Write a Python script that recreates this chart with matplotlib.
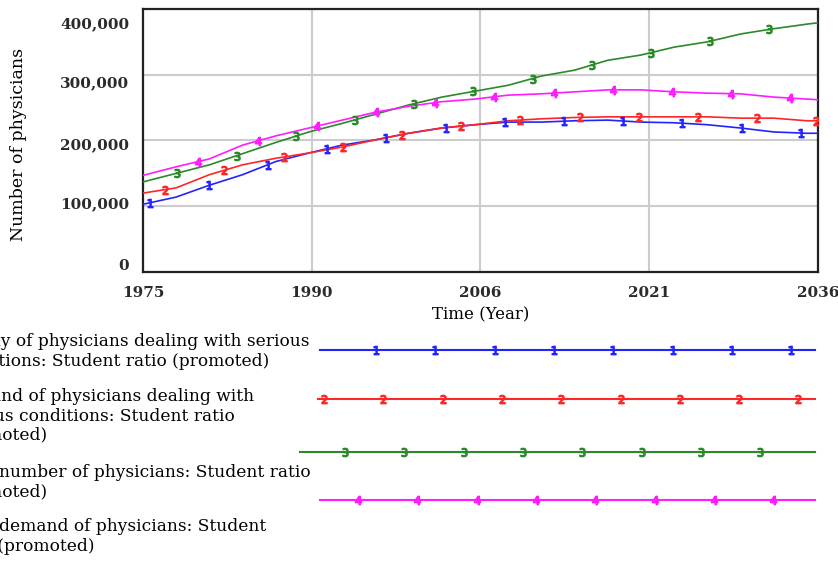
import numpy as np
import matplotlib.pyplot as plt
from matplotlib.transforms import ScaledTranslation

# simulation output, read every 3 years (plus the end year)
years = [1975, 1978, 1981, 1984, 1987, 1990, 1993, 1996, 1999, 2002, 2005,
         2008, 2011, 2014, 2017, 2020, 2023, 2026, 2029, 2032, 2035, 2036]
supply_serious = [103000, 114000, 132000, 148000, 168000, 181000, 193000, 201000, 211000, 219000, 224000,
                  228000, 228000, 230000, 231000, 228000, 227000, 224000, 219000, 213000, 211000, 211000]
demand_serious = [120000, 128000, 148000, 163000, 173000, 181000, 190000, 201000, 211000, 219000, 224000,
                  230000, 233000, 235000, 236000, 236000, 236000, 236000, 234000, 234000, 230000, 230000]
total_number = [137000, 150000, 163000, 180000, 197000, 213000, 226000, 240000, 254000, 266000, 275000,
                284000, 298000, 307000, 322000, 330000, 342000, 350000, 362000, 370000, 377000, 379000]
total_demand = [147000, 160000, 172000, 193000, 207000, 219000, 231000, 243000, 252000, 259000, 263000,
                269000, 271000, 274000, 277000, 277000, 274000, 272000, 271000, 266000, 263000, 262000]

labels = [
    "Supply of physicians dealing with serious\nconditions: Student ratio (promoted)",
    "Demand of physicians dealing with\nserious conditions: Student ratio\n(promoted)",
    "Total number of physicians: Student ratio\n(promoted)",
    "Total demand of physicians: Student\nratio (promoted)",
]
x_tick_labels = ["1975", "1990", "2006", "2021", "2036"]
y_ticks = [0, 100000, 200000, 300000, 400000]
y_tick_labels = ["0", "100,000", "200,000", "300,000", "400,000"]

series = [supply_serious, demand_serious, total_number, total_demand]
colors = ["#2323ff", "#ff2626", "#2a8a2a", "#ff1cff"]
digits = ["1", "2", "3", "4"]
mark_start = [1975.6, 1977.0, 1978.1, 1980.0]

serif = "DejaVu Serif"
W, H = 838, 561
fig = plt.figure(figsize=(W / 100, H / 100), dpi=100)
ax = fig.add_axes([143 / W, 1 - 272 / H, 675 / W, 263 / H])

for vals, c, d, m0 in zip(series, colors, digits, mark_start):
    ax.plot(years, vals, color=c, lw=1.2, zorder=3)
    mx = np.arange(m0, 2036, 5.35)
    ax.plot(mx, np.interp(mx, years, vals), ls="none", marker=f"${d}$",
            ms=6, color=c, zorder=4)

ax.set_xlim(1975, 2036)
ax.set_ylim(0, 400000)
ax.set_xticks(np.linspace(1975, 2036, 5))
ax.set_xticklabels(x_tick_labels)
ax.set_yticks(y_ticks)
ax.set_yticklabels(y_tick_labels)
ax.tick_params(length=0, pad=10)
for t in ax.get_xticklabels() + ax.get_yticklabels():
    t.set_family(serif)
    t.set_fontweight("bold")
    t.set_fontsize(11)
    t.set_color("#2b2b2b")
# value labels sit on a slightly compressed scale, nudge them (pixels, down = +)
y_nudge = [-7, -4, 3, 7, 14]
for t, dy in zip(ax.get_yticklabels(), y_nudge):
    t.set_transform(t.get_transform() + ScaledTranslation(0, -dy / 100, fig.dpi_scale_trans))
ax.grid(True, color="#cccccc", lw=1.5)
ax.set_axisbelow(True)
for s in ax.spines.values():
    s.set_linewidth(1.6)
    s.set_color("#222222")

ax.set_xlabel("Time (Year)", family=serif, fontsize=12, labelpad=5)
fig.text(19 / W, 1 - 144 / H, "Number of physicians", rotation=90,
         family=serif, fontsize=12.5, ha="center", va="center")

# legend drawn in pixel coordinates under the plot
leg = fig.add_axes([0, 0, 1, 1])
leg.set_xlim(0, W)
leg.set_ylim(H, 0)
leg.axis("off")
line_y = [350, 399, 452, 500]
line_x0 = [320, 318, 300, 320]
mark_x0 = [376, 324, 345, 358]
mark_n = [8, 9, 8, 8]
text_y = [351.5, 416, 482.5, 536.5]
for lab, c, d, y, x0, m0, n, ty in zip(labels, colors, digits, line_y, line_x0,
                                       mark_x0, mark_n, text_y):
    leg.plot([x0, 815], [y, y], color=c, lw=1.5)
    mx = m0 + 59.3 * np.arange(n)
    leg.plot(mx, np.full(n, y), ls="none", marker=f"${d}$", ms=6, color=c)
    leg.text(-49, ty, lab, family=serif, fontsize=12.25, ha="left", va="center",
             linespacing=1.22)

fig.savefig("out.png", dpi=100)
